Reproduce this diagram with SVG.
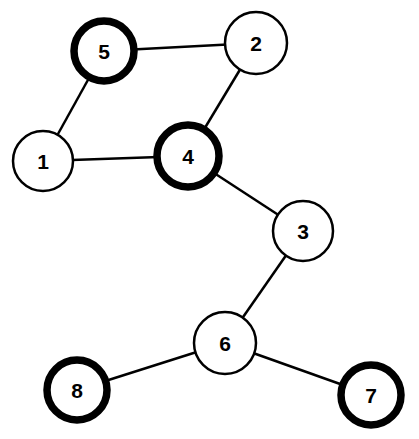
<svg xmlns="http://www.w3.org/2000/svg" width="419" height="439" viewBox="0 0 419 439">
<style>
.e{stroke:#000;stroke-width:2.5;fill:none}
.n{fill:#fff;stroke:#000;stroke-width:2.5}
.b{fill:#fff;stroke:#000;stroke-width:7.5}
.t{font-family:"Liberation Sans",Arial,sans-serif;font-weight:bold;font-size:21px;text-anchor:middle;dominant-baseline:central;fill:#000}
</style>
<rect width="419" height="439" fill="#fff"/>
<g id="edges">
<line class="e" x1="104" y1="51" x2="256" y2="43"/>
<line class="e" x1="104" y1="51" x2="43" y2="161"/>
<line class="e" x1="256" y1="43" x2="188" y2="156"/>
<line class="e" x1="43" y1="161" x2="188" y2="156"/>
<line class="e" x1="188" y1="156" x2="303" y2="231"/>
<line class="e" x1="303" y1="231" x2="225" y2="343"/>
<line class="e" x1="225" y1="343" x2="77" y2="390"/>
<line class="e" x1="225" y1="343" x2="371" y2="395"/>
</g>
<g id="node5"><circle class="b" cx="104" cy="51" r="30"/><text class="t" x="104" y="51">5</text></g>
<g id="node2"><circle class="n" cx="256" cy="43" r="31"/><text class="t" x="256" y="43">2</text></g>
<g id="node1"><circle class="n" cx="43" cy="161" r="30"/><text class="t" x="43" y="161">1</text></g>
<g id="node4"><circle class="b" cx="188" cy="156" r="31"/><text class="t" x="188" y="156">4</text></g>
<g id="node3"><circle class="n" cx="303" cy="231" r="30"/><text class="t" x="303" y="231">3</text></g>
<g id="node6"><circle class="n" cx="225" cy="343" r="31"/><text class="t" x="225" y="343">6</text></g>
<g id="node8"><circle class="b" cx="77" cy="390" r="30"/><text class="t" x="77" y="390">8</text></g>
<g id="node7"><circle class="b" cx="371" cy="395" r="30"/><text class="t" x="371" y="395">7</text></g>
</svg>
